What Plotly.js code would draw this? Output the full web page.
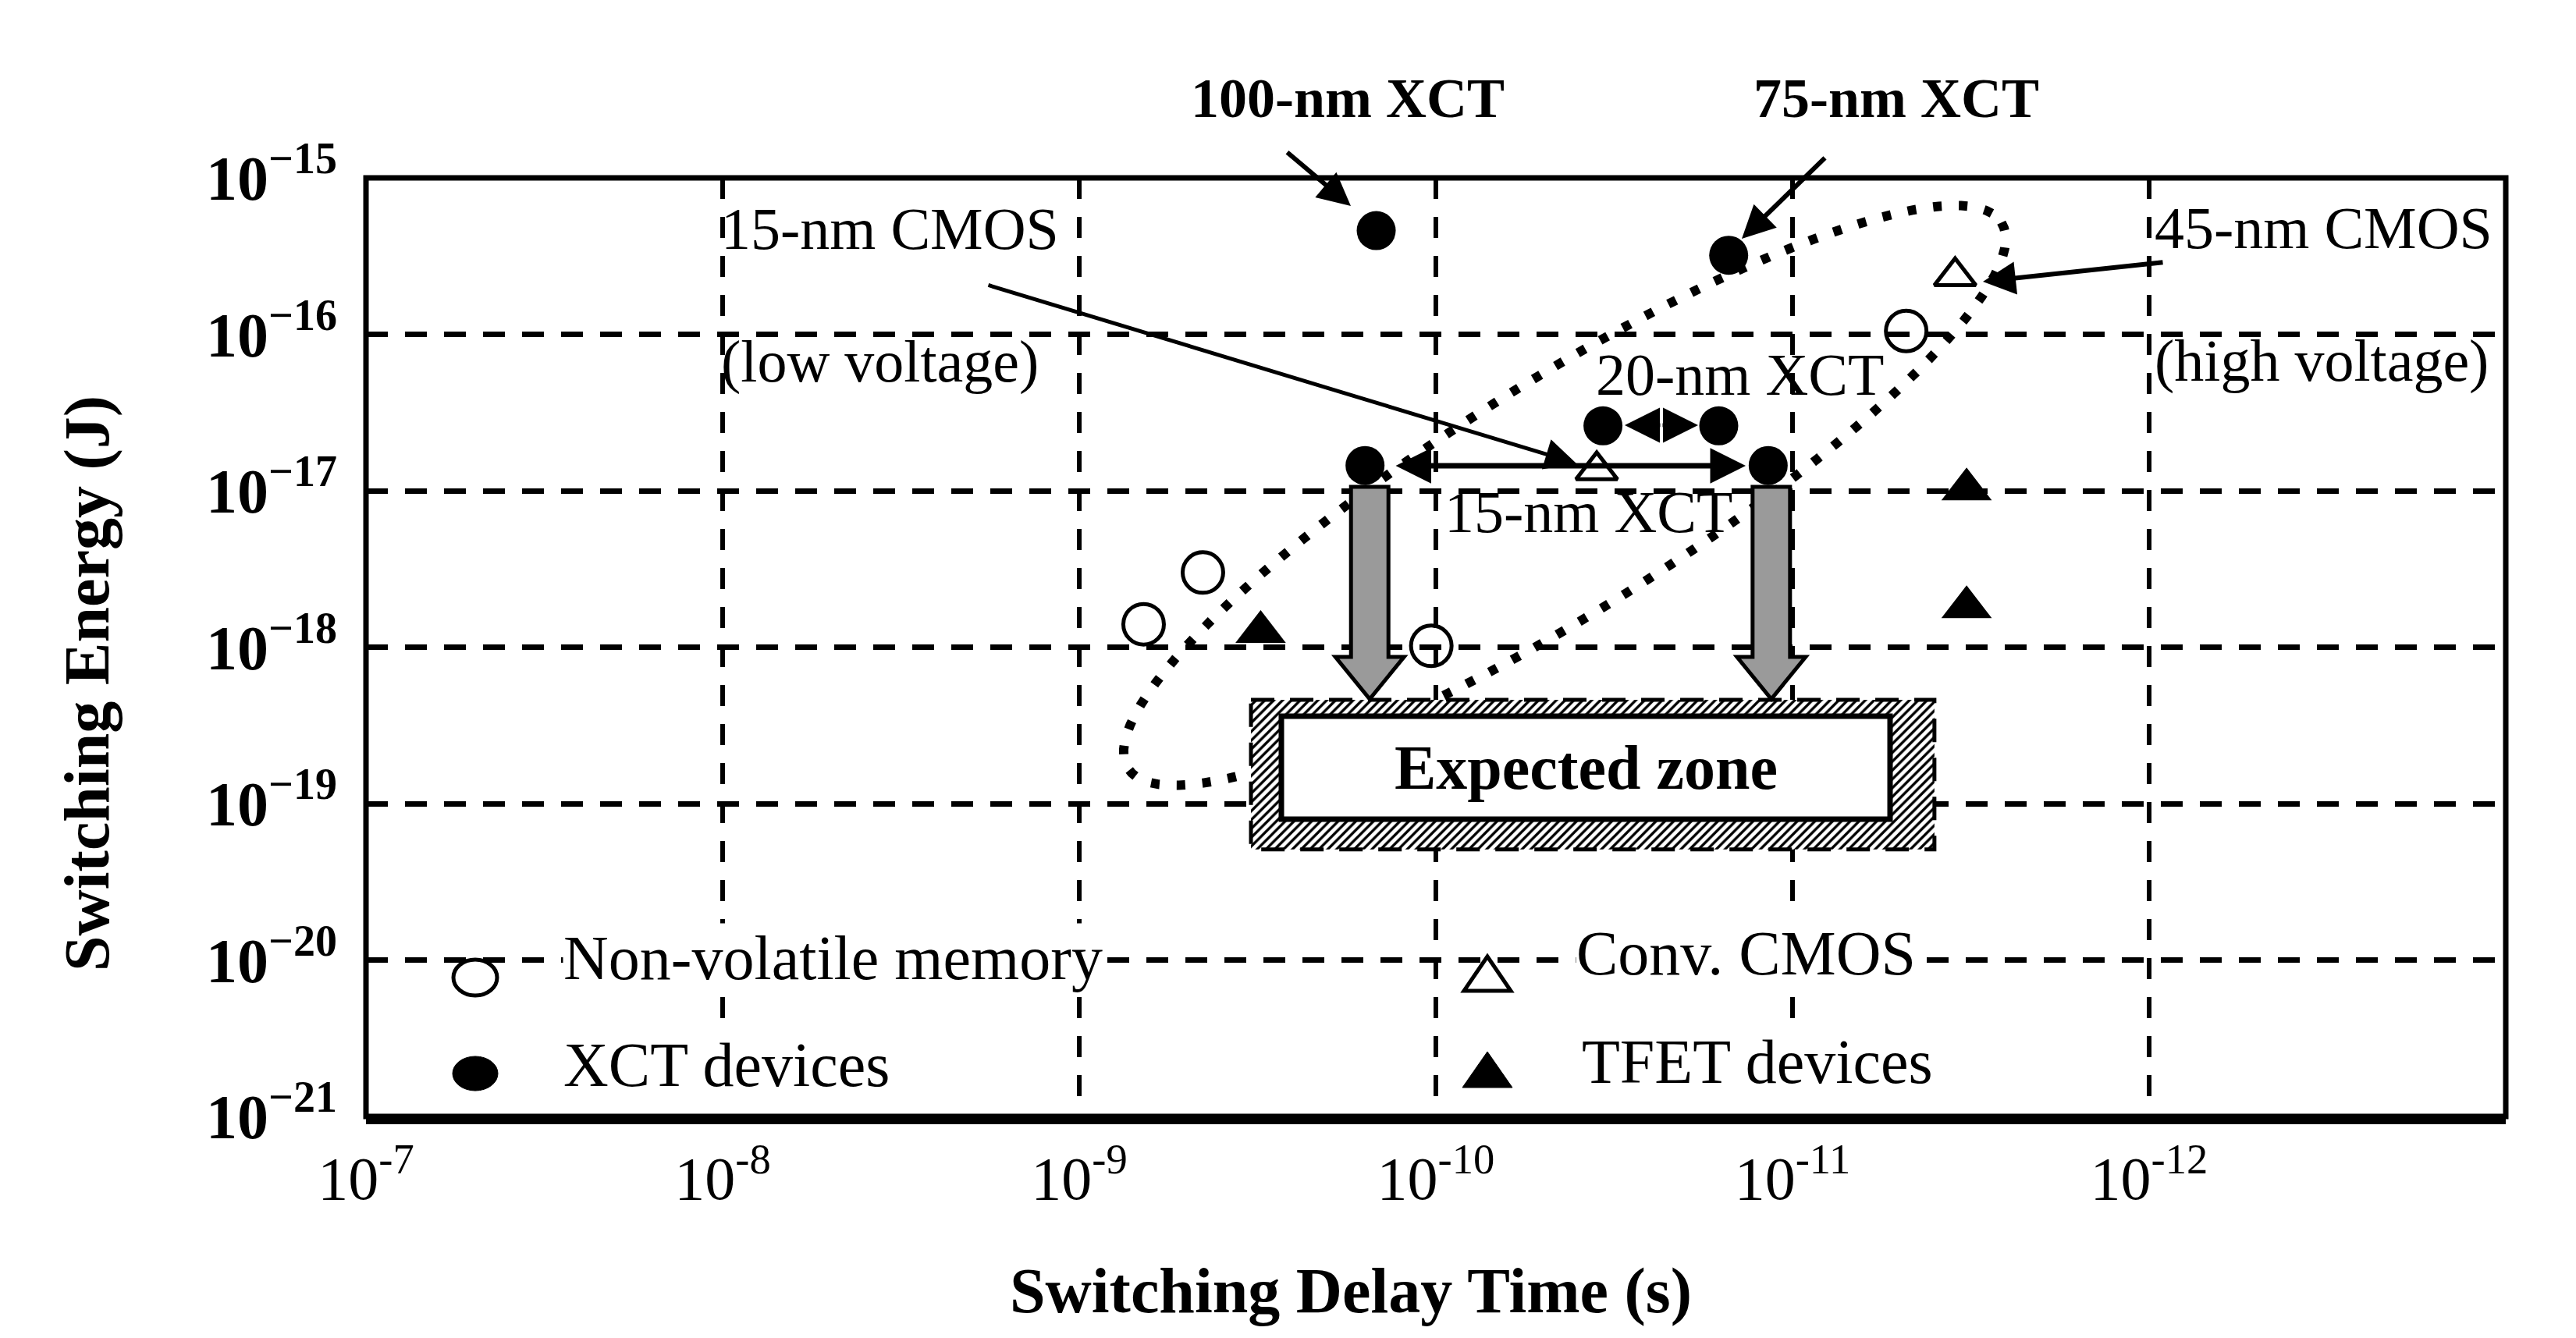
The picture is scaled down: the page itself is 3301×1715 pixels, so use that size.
<!DOCTYPE html>
<html>
<head>
<meta charset="utf-8">
<script src="https://cdn.plot.ly/plotly-3.0.1.min.js"></script>
<style>
  html, body { margin: 0; padding: 0; background: #fff; }
  #chart { width: 3301px; height: 1715px; }
</style>
</head>
<body>
<div id="chart"></div>
<script>
// switching energy vs switching delay
const seriesNames = ['Non-volatile memory', 'XCT devices', 'Conv. CMOS', 'TFET devices'];

const nvmDelay = [6.6e-10, 4.5e-10, 1.03e-10, 4.8e-12];
const nvmEnergy = [1.4e-18, 3.0e-18, 1.02e-18, 1.05e-16];

// 100-nm, 75-nm, 15-nm (two), 20-nm (two)
const xctDelay = [1.47e-10, 1.51e-11, 1.58e-10, 1.17e-11, 3.4e-11, 1.61e-11];
const xctEnergy = [4.6e-16, 3.2e-16, 1.45e-17, 1.45e-17, 2.6e-17, 2.6e-17];

// 15-nm low voltage, 45-nm high voltage
const cmosDelay = [3.54e-11, 3.5e-12];
const cmosEnergy = [1.35e-17, 2.35e-16];

const tfetDelay = [3.1e-10, 3.25e-12, 3.25e-12];
const tfetEnergy = [1.25e-18, 1.02e-17, 1.8e-18];

// expected zone corners (delay, energy)
const zoneDelay = [3.3e-10, 4.0e-12];
const zoneEnergy = [4.6e-19, 5.1e-20];

const xTickVals = [1e-7, 1e-8, 1e-9, 1e-10, 1e-11, 1e-12];
const xTickText = ['10<sup>-7</sup>', '10<sup>-8</sup>', '10<sup>-9</sup>', '10<sup>-10</sup>', '10<sup>-11</sup>', '10<sup>-12</sup>'];
const yTickVals = [1e-15, 1e-16, 1e-17, 1e-18, 1e-19, 1e-20, 1e-21];
const yTickText = ['15', '16', '17', '18', '19', '20', '21'].map(e => '<b>10<sup>\u2212' + e + '</sup></b>');

const FONT = '"Liberation Serif", "Times New Roman", serif';
const W = 3301, H = 1715;
const M = { l: 469, r: 90, t: 228, b: 284, pad: 0 };
const PW = W - M.l - M.r, PH = H - M.t - M.b;

// page pixel -> paper fraction
const fx = p => (p - M.l) / PW;
const fy = p => (H - M.b - p) / PH;
// delay value -> page pixel (reversed log axis, 1e-7 at the left)
const gx = v => M.l + (-7 - Math.log10(v)) / 6 * PW;

function pathPx(pts) {
  return pts.map((p, i) => (i ? 'L' : 'M') + fx(p[0]).toFixed(5) + ',' + fy(p[1]).toFixed(5)).join('') + 'Z';
}

// dotted ring round the XCT / CMOS cloud
const ring = { cx: 2005, cy: 635, a: 660, b: 148, tilt: 32 };
function ellipsePath(e) {
  const th = e.tilt * Math.PI / 180, c = Math.cos(th), s = Math.sin(th);
  const pts = [];
  for (let i = 0; i <= 120; i++) {
    const t = i / 120 * 2 * Math.PI;
    const u = e.a * Math.cos(t), v = e.b * Math.sin(t);
    pts.push([e.cx + u * c + v * s, e.cy - u * s + v * c]);
  }
  return pathPx(pts);
}

function bigArrow(cx) {
  const top = 624, neck = 842, tip = 896, sw = 24, hw = 44;
  return pathPx([[cx - sw, top], [cx + sw, top], [cx + sw, neck], [cx + hw, neck],
    [cx, tip], [cx - hw, neck], [cx - sw, neck]]);
}

const traces = [
  {
    type: 'scatter', mode: 'lines', fill: 'toself',
    x: [zoneDelay[0], zoneDelay[1], zoneDelay[1], zoneDelay[0], zoneDelay[0]],
    y: [zoneEnergy[0], zoneEnergy[0], zoneEnergy[1], zoneEnergy[1], zoneEnergy[0]],
    fillcolor: 'white',
    fillpattern: { shape: '/', fgcolor: 'black', bgcolor: 'white', size: 8, solidity: 0.42 },
    line: { color: 'black', width: 5, dash: '30px,20px' },
    hoverinfo: 'skip', showlegend: false
  },
  {
    type: 'scatter', mode: 'markers', name: seriesNames[0], x: nvmDelay, y: nvmEnergy,
    marker: { symbol: 'circle-open', size: 52, color: 'black', line: { width: 5, color: 'black' } }
  },
  {
    type: 'scatter', mode: 'markers', name: seriesNames[1], x: xctDelay, y: xctEnergy,
    marker: { symbol: 'circle', size: 50, color: 'black' }
  },
  {
    type: 'scatter', mode: 'markers', name: seriesNames[2], x: cmosDelay, y: cmosEnergy,
    marker: { symbol: 'triangle-up-open', size: 46, color: 'black', line: { width: 5, color: 'black' } }
  },
  {
    type: 'scatter', mode: 'markers', name: seriesNames[3], x: tfetDelay, y: tfetEnergy,
    marker: { symbol: 'triangle-up', size: 56, color: 'black' }
  }
];

function label(text, px, py, size, extra) {
  return Object.assign({
    xref: 'paper', yref: 'paper', x: fx(px), y: fy(py), text: text,
    showarrow: false, xanchor: 'center', yanchor: 'middle',
    font: { family: FONT, size: size, color: 'black' }
  }, extra || {});
}

function arrow(tail, tip, width, size, extra) {
  return Object.assign({
    xref: 'paper', yref: 'paper', x: fx(tip[0]), y: fy(tip[1]),
    axref: 'pixel', ayref: 'pixel', ax: tail[0] - tip[0], ay: tail[1] - tip[1],
    text: '', showarrow: true, arrowhead: 2, arrowsize: size, arrowwidth: width,
    arrowcolor: 'black', standoff: 0, startstandoff: 0, font: { size: 1 }
  }, extra || {});
}

const legendText = { bgcolor: 'white', xanchor: 'left', borderpad: 0 };

const annotations = [
  label('<b>Switching Delay Time (s)</b>', 1731, 1654, 82),
  label('<b>Switching Energy (J)</b>', 111, 876, 82, { textangle: -90 }),

  label('<b>100-nm XCT</b>', 1727, 126, 72),
  label('<b>75-nm XCT</b>', 2430, 126, 72),
  label('15-nm CMOS', 1140, 293, 76),
  label('(low voltage)', 1127, 463, 76),
  label('20-nm XCT', 2229, 480, 76),
  label('15-nm XCT', 2035, 656, 76),
  label('45-nm CMOS', 2977, 292, 76),
  label('(high voltage)', 2975, 462, 76),
  label('<b>Expected zone</b>', 2032, 984, 80),

  arrow([1648, 194], [1731, 264], 6, 1.4),
  arrow([2340, 201], [2232, 306], 6, 1.4),
  arrow([1265, 365], [2020, 594], 5, 1.6),
  arrow([2773, 336], [2541, 361], 6, 1.4),
  arrow([1787, 597], [2237, 597], 7, 1.3, { arrowside: 'end+start', startarrowhead: 2, startarrowsize: 1.3 }),
  arrow([2129, 545], [2082, 545], 5, 1.8),
  arrow([2129, 545], [2176, 545], 5, 1.8),

  label(seriesNames[0], 721, 1228, 80, legendText),
  label(seriesNames[1], 721, 1365, 80, legendText),
  label(seriesNames[2], 2019, 1222, 80, legendText),
  label(seriesNames[3], 2026, 1361, 80, legendText)
];

const shapes = [
  // grid under the legend block is hidden in the original
  ...[1e-8, 1e-9, 1e-11].map(v => ({
    type: 'rect', xref: 'paper', yref: 'paper', layer: 'between',
    x0: fx(gx(v) - 10), x1: fx(gx(v) + 10), y0: fy(1426), y1: fy(1162),
    fillcolor: 'white', line: { width: 0 }
  })),
  {
    type: 'path', xref: 'paper', yref: 'paper', layer: 'between', path: ellipsePath(ring),
    line: { color: 'black', width: 12, dash: '11px,22px' }
  },
  {
    type: 'rect', xref: 'paper', yref: 'paper', layer: 'above',
    x0: fx(1642), x1: fx(2422), y0: fy(1050), y1: fy(918),
    fillcolor: 'white', line: { color: 'black', width: 7 }
  },
  {
    type: 'path', xref: 'paper', yref: 'paper', layer: 'above', path: bigArrow(gx(xctDelay[2]) + 6),
    fillcolor: '#9a9a9a', line: { color: 'black', width: 5 }
  },
  {
    type: 'path', xref: 'paper', yref: 'paper', layer: 'above', path: bigArrow(gx(xctDelay[3]) + 4),
    fillcolor: '#9a9a9a', line: { color: 'black', width: 5 }
  },
  // legend keys
  {
    type: 'circle', xref: 'paper', yref: 'paper', layer: 'above',
    x0: fx(581), x1: fx(637), y0: fy(1276), y1: fy(1230),
    fillcolor: 'white', line: { color: 'black', width: 5 }
  },
  {
    type: 'circle', xref: 'paper', yref: 'paper', layer: 'above',
    x0: fx(580), x1: fx(638), y0: fy(1398), y1: fy(1354),
    fillcolor: 'black', line: { color: 'black', width: 1 }
  },
  {
    type: 'path', xref: 'paper', yref: 'paper', layer: 'above',
    path: pathPx([[1876, 1270], [1936, 1270], [1906, 1226]]),
    fillcolor: 'white', line: { color: 'black', width: 5 }
  },
  {
    type: 'path', xref: 'paper', yref: 'paper', layer: 'above',
    path: pathPx([[1874, 1394], [1938, 1394], [1906, 1348]]),
    fillcolor: 'black', line: { color: 'black', width: 1 }
  },
  // plot frame
  {
    type: 'rect', xref: 'paper', yref: 'paper', layer: 'above',
    x0: 0, x1: 1, y0: 0, y1: 1, line: { color: 'black', width: 7 }
  }
];

const layout = {
  width: W, height: H, margin: M,
  paper_bgcolor: 'white', plot_bgcolor: 'white',
  showlegend: false,
  font: { family: FONT, color: 'black' },
  xaxis: {
    type: 'log', range: [-7, -13], tickvals: xTickVals, ticktext: xTickText,
    tickfont: { family: FONT, size: 78, color: 'black' }, ticks: '', ticklabelstandoff: 2,
    showgrid: true, gridcolor: 'black', gridwidth: 6, griddash: '27px,23px',
    showline: true, linecolor: 'black', linewidth: 10, zeroline: false
  },
  yaxis: {
    type: 'log', range: [-21, -15], tickvals: yTickVals, ticktext: yTickText,
    tickfont: { family: FONT, size: 80, color: 'black' }, ticks: '', ticklabelstandoff: 36,
    showgrid: true, gridcolor: 'black', gridwidth: 7, griddash: '28px,22px',
    showline: false, zeroline: false
  },
  shapes: shapes,
  annotations: annotations
};

Plotly.newPlot('chart', traces, layout, { displayModeBar: false, staticPlot: true });
</script>
</body>
</html>
